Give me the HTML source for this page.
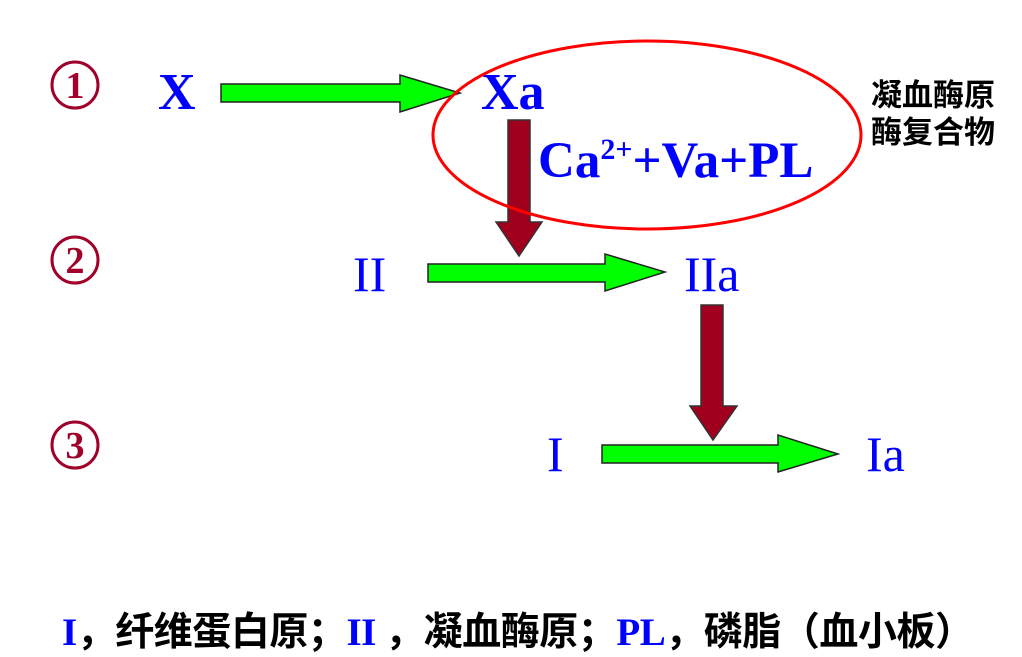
<!DOCTYPE html>
<html><head><meta charset="utf-8"><style>
html,body{margin:0;padding:0;background:#fff;width:1022px;height:657px;overflow:hidden}
</style></head><body>
<svg width="1022" height="657" viewBox="0 0 1022 657" xmlns="http://www.w3.org/2000/svg">
<g fill="none" stroke="#a0002a" stroke-width="3">
<circle cx="75" cy="85" r="23"/>
<circle cx="75" cy="260" r="23"/>
<circle cx="75" cy="445" r="23"/>
</g>
<g font-family="Liberation Serif, serif" fill="#a0002a" font-size="38" font-weight="bold" text-anchor="middle">
<text x="75" y="98">1</text>
<text x="75" y="273">2</text>
<text x="75" y="458">3</text>
</g>
<g font-family="Liberation Serif, serif" fill="#0000ff" font-weight="bold" font-size="52">
<text x="158" y="109">X</text>
<text x="481" y="109">Xa</text>
<text x="538" y="177" font-size="51">Ca<tspan font-size="30" dy="-18">2+</tspan><tspan dy="18">+Va+PL</tspan></text>
</g>
<g font-family="Liberation Serif, serif" fill="#0000ff" font-size="50">
<text x="353" y="291">II</text>
<text x="684" y="291">IIa</text>
<text x="547" y="471">I</text>
<text x="866" y="471">Ia</text>
</g>
<g fill="#00ff00" stroke="#222" stroke-width="1.5">
<polygon points="221,84 400,84 400,75 460,93 400,112 400,102 221,102"/>
<polygon points="428,264 605,264 605,254 665,272 605,291 605,282 428,282"/>
<polygon points="602,445 778,445 778,435 838,454 778,472 778,463 602,463"/>
</g>
<g fill="#a0001e" stroke="#333" stroke-width="1.5">
<polygon points="508,120 530,120 530,222 542,222 519,256 496,222 508,222"/>
<polygon points="701,305 723,305 723,406 737,406 713,440 690,406 701,406"/>
</g>
<ellipse cx="647" cy="135" rx="214" ry="94" fill="none" stroke="#ff0000" stroke-width="3"/>
<g font-family="Liberation Sans, Noto Sans CJK SC, sans-serif" font-weight="bold" font-size="31" fill="#000">
<text x="871" y="106">凝血酶原</text>
<text x="871" y="143">酶复合物</text>
</g>
<text x="62" y="645" font-family="Liberation Serif, Noto Sans CJK SC, sans-serif" font-size="39" font-weight="bold" fill="#000" textLength="912"><tspan fill="#0000ff">I</tspan>，纤维蛋白原；<tspan fill="#0000ff">II</tspan> ，凝血酶原；<tspan fill="#0000ff">PL</tspan>，磷脂（血小板）</text>
</svg>
</body></html>
